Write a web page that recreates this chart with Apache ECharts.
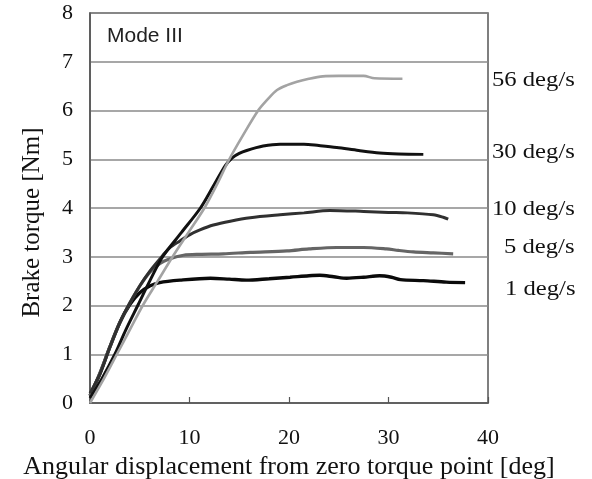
<!DOCTYPE html>
<html>
<head>
<meta charset="utf-8">
<script src="https://cdn.jsdelivr.net/npm/echarts@6/dist/echarts.min.js"></script>
<style>html,body{margin:0;padding:0;background:#fff}#c{width:592px;height:479px}</style>
</head>
<body>
<div id="c"></div>
<script>
var seriesNames = ['56 deg/s', '30 deg/s', '10 deg/s', '5 deg/s', '1 deg/s'];
var xTicks = [0, 10, 20, 30, 40];
var yTicks = [0, 1, 2, 3, 4, 5, 6, 7, 8];

var s56 = [[0,0],[1.4,0.5],[2.7,1],[4.0,1.5],[5.3,2],[6.8,2.5],[8.3,3],[9.9,3.5],[11.5,4],[12.8,4.5],[14.0,5.0],[15.4,5.5],[16.9,6.0],[17.9,6.24],[18.8,6.42],[19.8,6.52],[20.8,6.59],[22.0,6.65],[23.4,6.7],[25,6.71],[27.5,6.71],[28.6,6.66],[31.4,6.65]];
var s30 = [[0,0.1],[1.2,0.5],[2.5,1],[3.6,1.5],[4.8,2],[6.0,2.5],[7.3,3],[9.2,3.5],[11.1,4],[12.4,4.45],[13.6,4.87],[14.3,5.03],[15.0,5.12],[15.75,5.18],[17.4,5.27],[19.1,5.31],[21.5,5.31],[23,5.28],[24.8,5.24],[27,5.18],[29.1,5.13],[31,5.11],[33.5,5.1]];
var s10 = [[0,0.2],[1,0.6],[2,1.15],[3,1.65],[4,2.05],[5,2.4],[6,2.7],[7,2.95],[8,3.18],[9.0,3.32],[10.0,3.45],[11.05,3.55],[12.4,3.65],[14.1,3.73],[16.1,3.8],[19.1,3.86],[21.5,3.9],[24.1,3.95],[27.5,3.93],[30,3.91],[31.9,3.9],[34.5,3.86],[35.5,3.81],[36.0,3.77]];
var s5 = [[0,0.15],[1,0.62],[2,1.15],[3,1.65],[4,2.05],[5,2.4],[6,2.68],[7,2.86],[7.9,2.95],[9.4,3.03],[11,3.05],[13.4,3.06],[16.1,3.09],[19.8,3.12],[22,3.16],[24.8,3.19],[27.5,3.19],[29.8,3.16],[31,3.13],[32.5,3.1],[34.5,3.08],[36.5,3.06]];
var s1 = [[0,0.15],[1,0.6],[2,1.15],[3,1.65],[4,2.02],[5,2.26],[6,2.4],[7,2.47],[9.05,2.52],[12.1,2.56],[14,2.54],[15.7,2.52],[18,2.55],[20.1,2.58],[22,2.61],[23.1,2.62],[24.5,2.59],[25.8,2.56],[27.5,2.58],[29.1,2.61],[30.3,2.58],[31.2,2.53],[33.5,2.51],[35.8,2.48],[37.7,2.47]];

var seriesData = [s56, s30, s10, s5, s1];
var colors = ['#a3a3a3', '#111111', '#303030', '#656565', '#0a0a0a'];
var widths = [2.6, 3, 3, 3.2, 3.4];
var labelY = [80, 152, 209, 247.5, 289];
var labelX = [492, 492, 492, 504, 505];

var chart = echarts.init(document.getElementById('c'), null, {renderer: 'canvas'});
var serif = '"Liberation Serif", "Times New Roman", serif';

var series = seriesData.map(function (d, i) {
  return {
    name: seriesNames[i],
    type: 'line',
    data: d,
    showSymbol: false,
    smooth: 0.3,
    lineStyle: {color: colors[i], width: widths[i]},
    z: 10 - i,
    animation: false
  };
});

var graphics = seriesNames.map(function (n, i) {
  return {
    type: 'text',
    x: labelX[i],
    y: labelY[i],
    scaleX: 1.12,
    style: {text: n, font: '22px ' + serif, fill: '#111', textAlign: 'left', textVerticalAlign: 'middle'}
  };
});
graphics.push({
  type: 'text', x: 107, y: 36,
  style: {text: 'Mode III', font: '21px "Liberation Sans", Arial, sans-serif', fill: '#222', textAlign: 'left', textVerticalAlign: 'middle'}
});

chart.setOption({
  animation: false,
  backgroundColor: '#fff',
  grid: {left: 90, right: 104, top: 13, bottom: 76, containLabel: false, outerBoundsMode: 'none',
    show: true, borderColor: '#555', borderWidth: 1.5, backgroundColor: 'transparent'},
  xAxis: {
    type: 'value', min: 0, max: 40, interval: 10,
    name: 'Angular displacement from zero torque point [deg]',
    nameLocation: 'middle', nameGap: 46,
    nameTextStyle: {fontFamily: serif, fontSize: 26, color: '#111'},
    axisLine: {show: true, lineStyle: {color: '#555', width: 1.5}},
    axisTick: {show: true, inside: true, length: 6, lineStyle: {color: '#555', width: 1.2}},
    axisLabel: {fontFamily: serif, fontSize: 22, color: '#111', margin: 24,
      formatter: function (v) { return xTicks.indexOf(v) >= 0 ? String(v) : ''; }},
    splitLine: {show: false}
  },
  yAxis: {
    type: 'value', min: 0, max: 8, interval: 1,
    name: 'Brake torque [Nm]',
    nameLocation: 'middle', nameGap: 45,
    nameTextStyle: {fontFamily: serif, fontSize: 25, color: '#111', padding: [0, 29, 0, 0]},
    axisLine: {show: true, lineStyle: {color: '#555', width: 1.5}},
    axisTick: {show: false},
    axisLabel: {fontFamily: serif, fontSize: 22, color: '#111', margin: 17,
      formatter: function (v) { return yTicks.indexOf(v) >= 0 ? String(v) : ''; }},
    splitLine: {show: true, lineStyle: {color: '#8a8a8a', width: 1.5}}
  },
  series: series,
  graphic: graphics
});
</script>
</body>
</html>
